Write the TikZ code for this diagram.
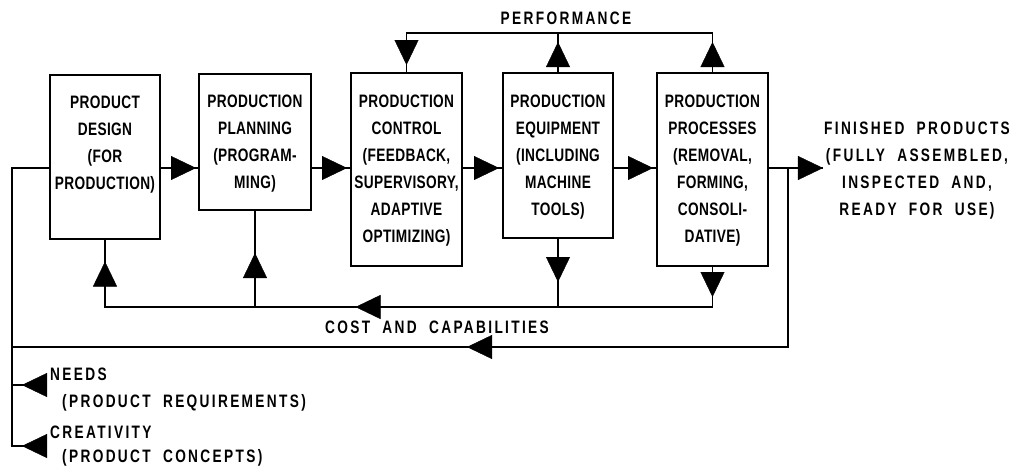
\documentclass[tikz,border=0pt]{standalone}
\usepackage{fontspec}
\usepackage{tikz}
\usetikzlibrary{arrows.meta}
\usetikzlibrary{positioning}
\usetikzlibrary{decorations.markings}
\newfontfamily\handfont{Liberation Sans}[FakeStretch=0.76,LetterSpace=2]
\newfontfamily\spacedfont{Liberation Sans}[FakeStretch=0.76,LetterSpace=13,WordSpace=2]
\newcommand{\boxfont}{\handfont\bfseries\fontsize{18}{27}\selectfont}
\newcommand{\labelfont}{\spacedfont\bfseries\fontsize{18}{27}\selectfont}

\begin{document}
\begin{tikzpicture}[x=1pt, y=-1pt,
    block/.style={draw, line width=1.1pt, outer sep=0pt},
    boxtext/.style={font=\boxfont, align=center, inner sep=0pt},
    tag/.style={font=\labelfont, inner sep=0pt},
    wire/.style={line width=1.8pt},
    tipat/.style={postaction={decorate, decoration={markings,
        mark=at position #1 with {\arrow{Triangle[length=25pt,width=24pt,line width=0.4pt]}}}}}]
    \useasboundingbox (0,0) rectangle (1017,469);

    % the five stages
    \node[block, minimum width=110pt, minimum height=164pt] (design) at (105,157) {};
    \node[block, minimum width=112pt, minimum height=136pt] (planning) at (255,142) {};
    \node[block, minimum width=111pt, minimum height=193pt] (control) at (406.5,169.5) {};
    \node[block, minimum width=110pt, minimum height=165pt] (equipment) at (558,155.5) {};
    \node[block, minimum width=111pt, minimum height=193pt] (processes) at (712.5,169.5) {};

    \node[boxtext, below=21pt of design.north] (designtext) {PRODUCT\\DESIGN\\(FOR\\PRODUCTION)};
    \node[boxtext, below=21pt of planning.north] (planningtext) {PRODUCTION\\PLANNING\\(PROGRAM-\\MING)};
    \node[boxtext, below=22pt of control.north] (controltext) {PRODUCTION\\CONTROL\\(FEEDBACK,\\SUPERVISORY,\\ADAPTIVE\\OPTIMIZING)};
    \node[boxtext, below=22pt of equipment.north] (equipmenttext) {PRODUCTION\\EQUIPMENT\\(INCLUDING\\MACHINE\\TOOLS)};
    \node[boxtext, below=22pt of processes.north] (processestext) {PRODUCTION\\PROCESSES\\(REMOVAL,\\FORMING,\\CONSOLI-\\DATIVE)};

    % labels
    \node[tag, align=center, anchor=north] (done) at (917,122) {FINISHED PRODUCTS\\(FULLY ASSEMBLED,\\INSPECTED AND,\\READY FOR USE)};
    \node[tag] (perf) at (566,18) {PERFORMANCE};
    \node[tag] (cost) at (437,327) {COST AND CAPABILITIES};
    \node[tag, align=left, anchor=north west] (needs) at (50,368) {NEEDS\\\hspace*{12pt}(PRODUCT REQUIREMENTS)};
    \node[tag, align=left, anchor=north west] (creativity) at (50,426) {CREATIVITY\\[-3pt]\hspace*{12pt}(PRODUCT CONCEPTS)};

    \coordinate (row) at (0,168);
    \coordinate (split) at (788,168);
    \coordinate (loopbr) at (788,347);
    \coordinate (loopbl) at (12,347);
    \coordinate (inleft) at (12,168);
    \coordinate (needsin) at (44,385);
    \coordinate (needsjoin) at (12,385);
    \coordinate (creatin) at (44,446);
    \coordinate (creatcorner) at (12,446);
    \coordinate (costr) at (712.5,307);
    \coordinate (costl) at (105,307);
    \coordinate (perfr) at (712.5,33);

    % main flow
    \draw[wire, tipat=-3pt] (design.east |- row) -- (planning.west |- row);
    \draw[wire, tipat=-4pt] (planning.east |- row) -- (control.west |- row);
    \draw[wire, tipat=-4pt] (control.east |- row) -- (equipment.west |- row);
    \draw[wire, tipat=-4pt] (equipment.east |- row) -- (processes.west |- row);
    \draw[wire, tipat=-1pt, shorten >=1pt] (processes.east |- row) -- (done.west |- row);

    % outer loop back to design
    \draw[wire, tipat=500pt] (split) -- (loopbr) -- (loopbl) -- (inleft) -- (design.west |- row);
    \draw[wire, tipat=22pt] (needsin) -- (needsjoin);
    \draw[wire, tipat=22pt] (creatin) -- (creatcorner) -- (loopbl);

    % cost and capabilities
    \draw[wire, tipat=31pt, tipat=398pt, tipat=694pt] (processes.south) -- (costr) -- (costl) -- (design.south);
    \draw[wire, tipat=44pt] (equipment.south) -- (equipment.south |- costr);
    \draw[wire, tipat=54pt] (planning.south |- costr) -- (planning.south);

    % performance
    \draw[wire, tipat=31pt, tipat=378pt] (processes.north) -- (perfr) -- (control.north |- perfr) -- (control.north);
    \draw[wire, tipat=31pt] (equipment.north) -- (equipment.north |- perfr);
\end{tikzpicture}
\end{document}
